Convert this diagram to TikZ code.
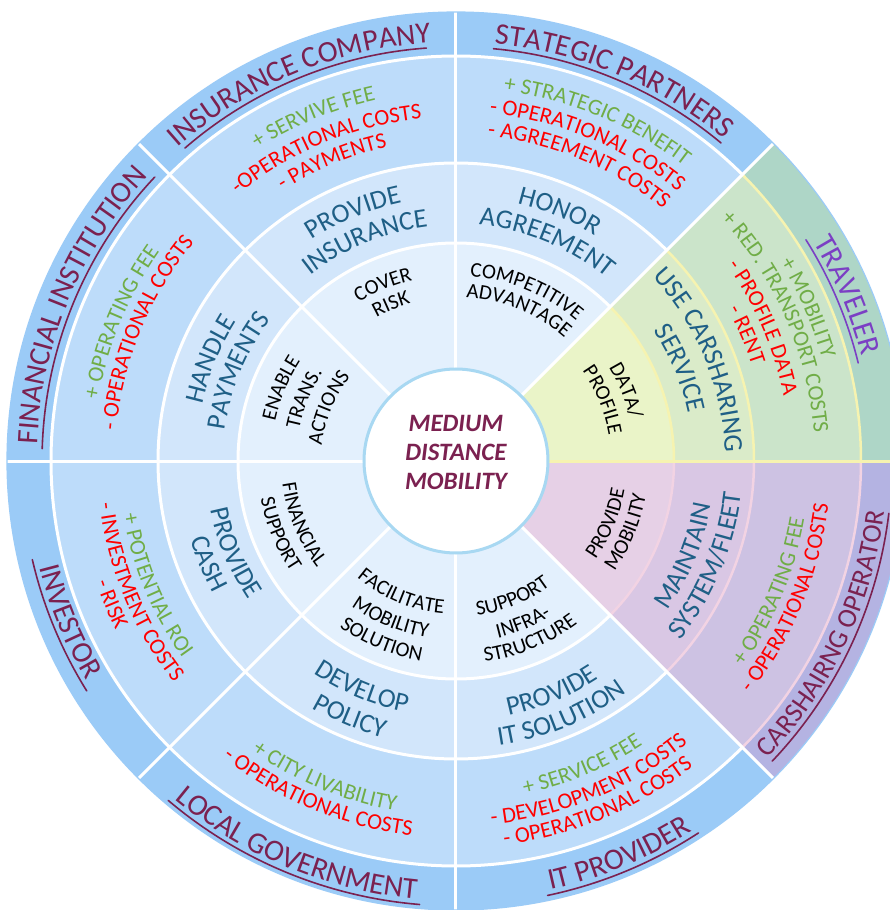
\documentclass[tikz,border=0pt]{standalone}
\usepackage{fontspec}
\setmainfont{Carlito}
\usetikzlibrary{decorations.text}
\definecolor{bA}{HTML}{E3F0FD}
\definecolor{bB}{HTML}{D2E6FB}
\definecolor{bC}{HTML}{BDDCFA}
\definecolor{bD}{HTML}{9BCBF7}
\definecolor{gA}{HTML}{EAF4C8}
\definecolor{gB}{HTML}{DAEBC9}
\definecolor{gC}{HTML}{CBE4CA}
\definecolor{gD}{HTML}{AED6C7}
\definecolor{pA}{HTML}{E6D0E6}
\definecolor{pB}{HTML}{D9C7E4}
\definecolor{pC}{HTML}{CDC2E3}
\definecolor{pD}{HTML}{B4B3E2}
\definecolor{sepY}{HTML}{F6F3B0}
\definecolor{sepP}{HTML}{F2D3E3}
\definecolor{rimB}{HTML}{A8D8F2}
\definecolor{mar}{HTML}{7B2150}
\definecolor{purp}{HTML}{7B3FC4}
\definecolor{grn}{HTML}{70AD47}
\definecolor{rd}{HTML}{FF0000}
\definecolor{blu}{HTML}{1F5F86}
\definecolor{blk}{HTML}{000000}
\newcommand\ringfA{\fontsize{21}{21}\selectfont}
\newcommand\ringfB{\fontsize{27}{27}\selectfont}
\newcommand\ringfC{\fontsize{22.5}{22.5}\selectfont}
\newcommand\ringfO{\fontsize{30}{30}\selectfont}
\newcommand\ringfOs{\fontsize{27.5}{27.5}\selectfont}
\tikzset{ulinestyle/.style={line width=1.6,line cap=round}}
\newcommand\annsec[4]{\fill[#4] (#1:#2) arc[start angle=#1,end angle={#1+45},radius=#2] -- ({#1+45}:#3) arc[start angle={#1+45},end angle=#1,radius=#3] -- cycle;}
% top style: clockwise path, letters point outward
\newcommand\ttxt[5]{\path[decorate,decoration={text along path,text align=center,text={|#3\color{#4}|#5}}] ({#1+42}:#2) arc[start angle={#1+42},end angle={#1-42},radius=#2];}
% bottom style: counterclockwise path, letters point inward
\newcommand\btxt[5]{\path[decorate,decoration={text along path,text align=center,text={|#3\color{#4}|#5}}] ({#1-42}:#2) arc[start angle={#1-42},end angle={#1+42},radius=#2];}
% outer labels: #1 mid angle, #2 half span of underline (deg), #3 colour, #4 text
\newcommand\otop[4]{%
  \ttxt{#1}{419}{\ringfO}{#3}{#4}%
  \draw[#3,ulinestyle] ({#1+#2}:414) arc[start angle={#1+#2},end angle={#1-#2},radius=414];}
% #1 mid angle, #2 baseline radius, #3 half span, #4 colour, #5 text, #6 font
\newcommand\obot[6]{%
  \btxt{#1}{#2}{#6}{#4}{#5}%
  \draw[#4,ulinestyle] ({#1-#3}:{#2+5}) arc[start angle={#1-#3},end angle={#1+#3},radius={#2+5}];}
\begin{document}
\begin{tikzpicture}[x=1pt,y=1pt]
\useasboundingbox (-456,-449) rectangle (434,461);
\fill[white] (-456,-449) rectangle (434,461);
\clip (-456,-449) rectangle (434,461);
% sectors
\foreach \a in {45,90,...,270} {\annsec{\a}{90}{218}{bA}\annsec{\a}{218}{298}{bB}\annsec{\a}{298}{405}{bC}\annsec{\a}{405}{449}{bD}}
\annsec{0}{90}{218}{gA}\annsec{0}{218}{298}{gB}\annsec{0}{298}{405}{gC}\annsec{0}{405}{449}{gD}
\annsec{-45}{90}{218}{pA}\annsec{-45}{218}{298}{pB}\annsec{-45}{298}{405}{pC}\annsec{-45}{405}{449}{pD}
% ring separators
\foreach \r in {218,298,405} {
  \draw[white,line width=3] (45:\r) arc[start angle=45,end angle=315,radius=\r];
  \draw[sepY,line width=2.5] (0:\r) arc[start angle=0,end angle=45,radius=\r];
  \draw[sepP,line width=2.5] (-45:\r) arc[start angle=-45,end angle=0,radius=\r];
}
% radial separators
\foreach \a in {45,90,...,315} {\draw[white,line width=3] (\a:92) -- (\a:450);}
\draw[sepY,line width=3] (0:92) -- (0:450);
\draw[bD,line width=1.2] (0,0) circle[radius=449];
% centre
\draw[rimB,line width=3,fill=white] (0,0) circle[radius=92];
\node[align=center,text=mar,font=\fontsize{25}{29}\selectfont\bfseries\itshape] (hub) at (0,9) {MEDIUM\\DISTANCE\\MOBILITY};
% outer labels
\otop{112.5}{18.4}{mar}{INSURANCE COMPANY}
\otop{67.5}{17.3}{mar}{STATEGIC PARTNERS}
\otop{157.5}{20.8}{mar}{FINANCIAL INSTITUTION}
\otop{23}{9.3}{purp}{TRAVELER}
\obot{-25.2}{431}{18.3}{mar}{CARSHAIRNG OPERATOR}{\ringfOs}
\obot{-67.5}{439}{10.6}{mar}{IT PROVIDER}{\ringfO}
\obot{-112.5}{440}{17.8}{mar}{LOCAL GOVERNMENT}{\ringfO}
\obot{-157.5}{430}{9.4}{mar}{INVESTOR}{\ringfO}
% ring 3
\ttxt{112.5}{370}{\ringfC}{grn}{+ SERVIVE FEE}
\ttxt{112.5}{344}{\ringfC}{rd}{-OPERATIONAL COSTS}
\ttxt{112.5}{321}{\ringfC}{rd}{- PAYMENTS}
\ttxt{67.5}{373}{\ringfC}{grn}{+ STRATEGIC BENEFIT}
\ttxt{67.5}{349}{\ringfC}{rd}{- OPERATIONAL COSTS}
\ttxt{67.5}{326}{\ringfC}{rd}{- AGREEMENT COSTS}
\ttxt{157.5}{363}{\ringfC}{grn}{+ OPERATING FEE}
\ttxt{157.5}{341}{\ringfC}{rd}{- OPERATIONAL COSTS}
\ttxt{23.5}{380}{\ringfC}{grn}{+ MOBILITY}
\ttxt{23.5}{359}{\ringfC}{grn}{+ RED. TRANSPORT COSTS}
\ttxt{23.5}{334}{\ringfC}{rd}{- PROFILE DATA}
\ttxt{23.5}{311}{\ringfC}{rd}{- RENT}
\btxt{-22.5}{353}{\ringfC}{grn}{+ OPERATING FEE}
\btxt{-22.5}{375}{\ringfC}{rd}{- OPERATIONAL COSTS}
\btxt{-67.5}{340}{\ringfC}{grn}{+ SERVICE FEE}
\btxt{-67.5}{365}{\ringfC}{rd}{- DEVELOPMENT COSTS}
\btxt{-67.5}{387}{\ringfC}{rd}{- OPERATIONAL COSTS}
\btxt{-112.5}{355}{\ringfC}{grn}{+ CITY LIVABILITY}
\btxt{-112.5}{377}{\ringfC}{rd}{- OPERATIONAL COSTS}
\btxt{-157.5}{337}{\ringfC}{grn}{+ POTENTIAL ROI}
\btxt{-157.5}{359}{\ringfC}{rd}{- INVESTMENT COSTS}
\btxt{-157.5}{380}{\ringfC}{rd}{- RISK}
% ring 2
\ttxt{112.5}{264}{\ringfB}{blu}{PROVIDE}
\ttxt{112.5}{236}{\ringfB}{blu}{INSURANCE}
\ttxt{67.5}{265}{\ringfB}{blu}{HONOR}
\ttxt{67.5}{237}{\ringfB}{blu}{AGREEMENT}
\ttxt{157.5}{260}{\ringfB}{blu}{HANDLE}
\ttxt{157.5}{233}{\ringfB}{blu}{PAYMENTS}
\ttxt{22.5}{269}{\ringfB}{blu}{USE CARSHARING}
\ttxt{22.5}{237}{\ringfB}{blu}{SERVICE}
\btxt{-22.5}{259}{\ringfB}{blu}{MAINTAIN}
\btxt{-22.5}{287}{\ringfB}{blu}{SYSTEM/FLEET}
\btxt{-67.5}{260}{\ringfB}{blu}{PROVIDE}
\btxt{-67.5}{288}{\ringfB}{blu}{IT SOLUTION}
\btxt{-112.5}{256}{\ringfB}{blu}{DEVELOP}
\btxt{-112.5}{286}{\ringfB}{blu}{POLICY}
\btxt{-157.5}{250}{\ringfB}{blu}{PROVIDE}
\btxt{-157.5}{277}{\ringfB}{blu}{CASH}
% ring 1
\ttxt{112.5}{186}{\ringfA}{blk}{COVER}
\ttxt{112.5}{164}{\ringfA}{blk}{RISK}
\ttxt{67.5}{185}{\ringfA}{blk}{COMPETITIVE}
\ttxt{67.5}{164}{\ringfA}{blk}{ADVANTAGE}
\ttxt{157.5}{185}{\ringfA}{blk}{ENABLE}
\ttxt{157.5}{160}{\ringfA}{blk}{TRANS.}
\ttxt{157.5}{135}{\ringfA}{blk}{ACTIONS}
\ttxt{22.5}{179}{\ringfA}{blk}{DATA/}
\ttxt{22.5}{155}{\ringfA}{blk}{PROFILE}
\btxt{-22.5}{171}{\ringfA}{blk}{PROVIDE}
\btxt{-22.5}{193}{\ringfA}{blk}{MOBILITY}
\btxt{-67.5}{156}{\ringfA}{blk}{SUPPORT}
\btxt{-67.5}{182}{\ringfA}{blk}{INFRA-}
\btxt{-67.5}{203}{\ringfA}{blk}{STRUCTURE}
\btxt{-112.5}{153}{\ringfA}{blk}{FACILITATE}
\btxt{-112.5}{179}{\ringfA}{blk}{MOBILITY}
\btxt{-112.5}{203}{\ringfA}{blk}{SOLUTION}
\btxt{-157.5}{175}{\ringfA}{blk}{FINANCIAL}
\btxt{-157.5}{199}{\ringfA}{blk}{SUPPORT}
\end{tikzpicture}
\end{document}
